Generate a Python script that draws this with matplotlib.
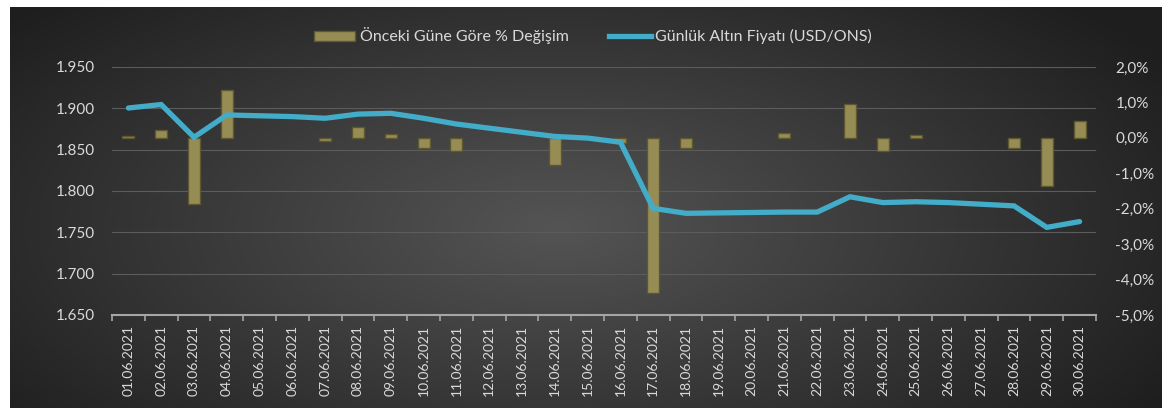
import numpy as np
import matplotlib
matplotlib.use('Agg')
import matplotlib.pyplot as plt
from matplotlib.patches import Patch
from matplotlib.lines import Line2D
from matplotlib.ticker import FuncFormatter

plt.rcParams['font.family'] = ['Lato', 'DejaVu Sans']

dates = ['01.06.2021', '02.06.2021', '03.06.2021', '04.06.2021', '05.06.2021',
         '06.06.2021', '07.06.2021', '08.06.2021', '09.06.2021', '10.06.2021',
         '11.06.2021', '12.06.2021', '13.06.2021', '14.06.2021', '15.06.2021',
         '16.06.2021', '17.06.2021', '18.06.2021', '19.06.2021', '20.06.2021',
         '21.06.2021', '22.06.2021', '23.06.2021', '24.06.2021', '25.06.2021',
         '26.06.2021', '27.06.2021', '28.06.2021', '29.06.2021', '30.06.2021']

# daily gold price (USD/ONS)
price = [1900.4, 1904.6, 1865.0, 1892.0, 1891.0, 1890.0, 1888.0, 1893.0, 1894.0, 1888.0,
         1881.0, 1876.0, 1871.0, 1866.0, 1864.0, 1859.0, 1779.0, 1773.0, 1773.5, 1774.0,
         1774.5, 1774.5, 1793.0, 1786.0, 1787.0, 1786.0, 1784.0, 1782.0, 1756.0, 1763.0]

# % change vs previous day (nan = no bar shown)
nan = np.nan
change = [0.05, 0.23, -1.86, 1.36, nan, nan, -0.10, 0.30, 0.10, -0.30,
          -0.37, nan, nan, -0.76, nan, -0.15, -4.38, -0.30, nan, nan,
          0.15, nan, 0.96, -0.37, 0.08, nan, nan, -0.30, -1.36, 0.48]

txt = '#d9d9d9'
bar_face = '#968d55'
bar_edge = '#5e5730'
line_col = '#43acc8'

fig = plt.figure(figsize=(11.62, 4.08), dpi=100)
fig.patch.set_facecolor('white')

# dark radial-gradient background
bg = fig.add_axes([10 / 1162, 0, 1152 / 1162, 401 / 408], zorder=-10)
gx, gy = np.meshgrid(np.linspace(-1, 1, 400), np.linspace(-1, 1, 200))
r = np.sqrt(((gx + 0.05) / 1.0) ** 2 + ((gy - 0.1) / 1.3) ** 2)
shade = np.clip(0.33 - 0.17 * r, 0.12, 0.35)
bg.imshow(np.dstack([shade] * 3), aspect='auto', extent=[0, 1, 0, 1])
bg.axis('off')

ax = fig.add_axes([112 / 1162, 1 - 315 / 408, (1096 - 112) / 1162, (315 - 67) / 408])
ax.patch.set_visible(False)
ax2 = ax.twinx()

x = np.arange(len(dates))

ax.set_ylim(1650, 1950)
ax.set_yticks(np.arange(1650, 1951, 50))
ax.yaxis.set_major_formatter(FuncFormatter(lambda v, p: f'{v / 1000:.3f}'))
ax.grid(axis='y', color='#5c5c5c', linewidth=0.8)
ax.set_axisbelow(True)

ax2.set_ylim(-5, 2)
ax2.set_yticks(np.arange(-5, 2.1, 1))
ax2.yaxis.set_major_formatter(FuncFormatter(lambda v, p: f'{v:.1f}%'.replace('.', ',')))

ax2.bar(x, change, width=0.36, color=bar_face, edgecolor=bar_edge, linewidth=1.0, zorder=2)
ax2.plot(x, price, color=line_col, linewidth=3.8, solid_capstyle='round',
         solid_joinstyle='miter', transform=ax.transData, zorder=3)
ax2.set_ylim(-5, 2)

ax.set_xlim(-0.5, len(dates) - 0.5)
ax.set_xticks(x)
ax.set_xticklabels(dates, rotation=90)
ax.set_xticks(np.arange(-0.5, len(dates), 1), minor=True)
ax.tick_params(axis='x', which='major', length=0, pad=7, labelsize=10, labelcolor=txt)
ax.tick_params(axis='x', which='minor', length=4, width=1.2, color='#a6a6a6', direction='out')
ax.tick_params(axis='y', length=0, pad=12, labelsize=11, labelcolor=txt)
ax2.tick_params(axis='y', length=0, pad=14, labelsize=11, labelcolor=txt)

for a in (ax, ax2):
    for s in a.spines.values():
        s.set_visible(False)
ax.spines['bottom'].set_visible(True)
ax.spines['bottom'].set_color('#a6a6a6')
ax.spines['bottom'].set_linewidth(1.5)

handles = [Patch(facecolor=bar_face, edgecolor=bar_edge, label='Önceki Güne Göre % Değişim'),
           Line2D([0], [0], color=line_col, linewidth=3.8, label='Günlük Altın Fiyatı (USD/ONS)')]
fig.legend(handles=handles, loc='center', bbox_to_anchor=(593 / 1162, 1 - 36 / 408), ncol=2,
           frameon=False, fontsize=11.5, labelcolor=txt, handlelength=2.6, handleheight=0.6,
           handletextpad=0.3, columnspacing=2.5)

fig.savefig('out.png', dpi=100)
